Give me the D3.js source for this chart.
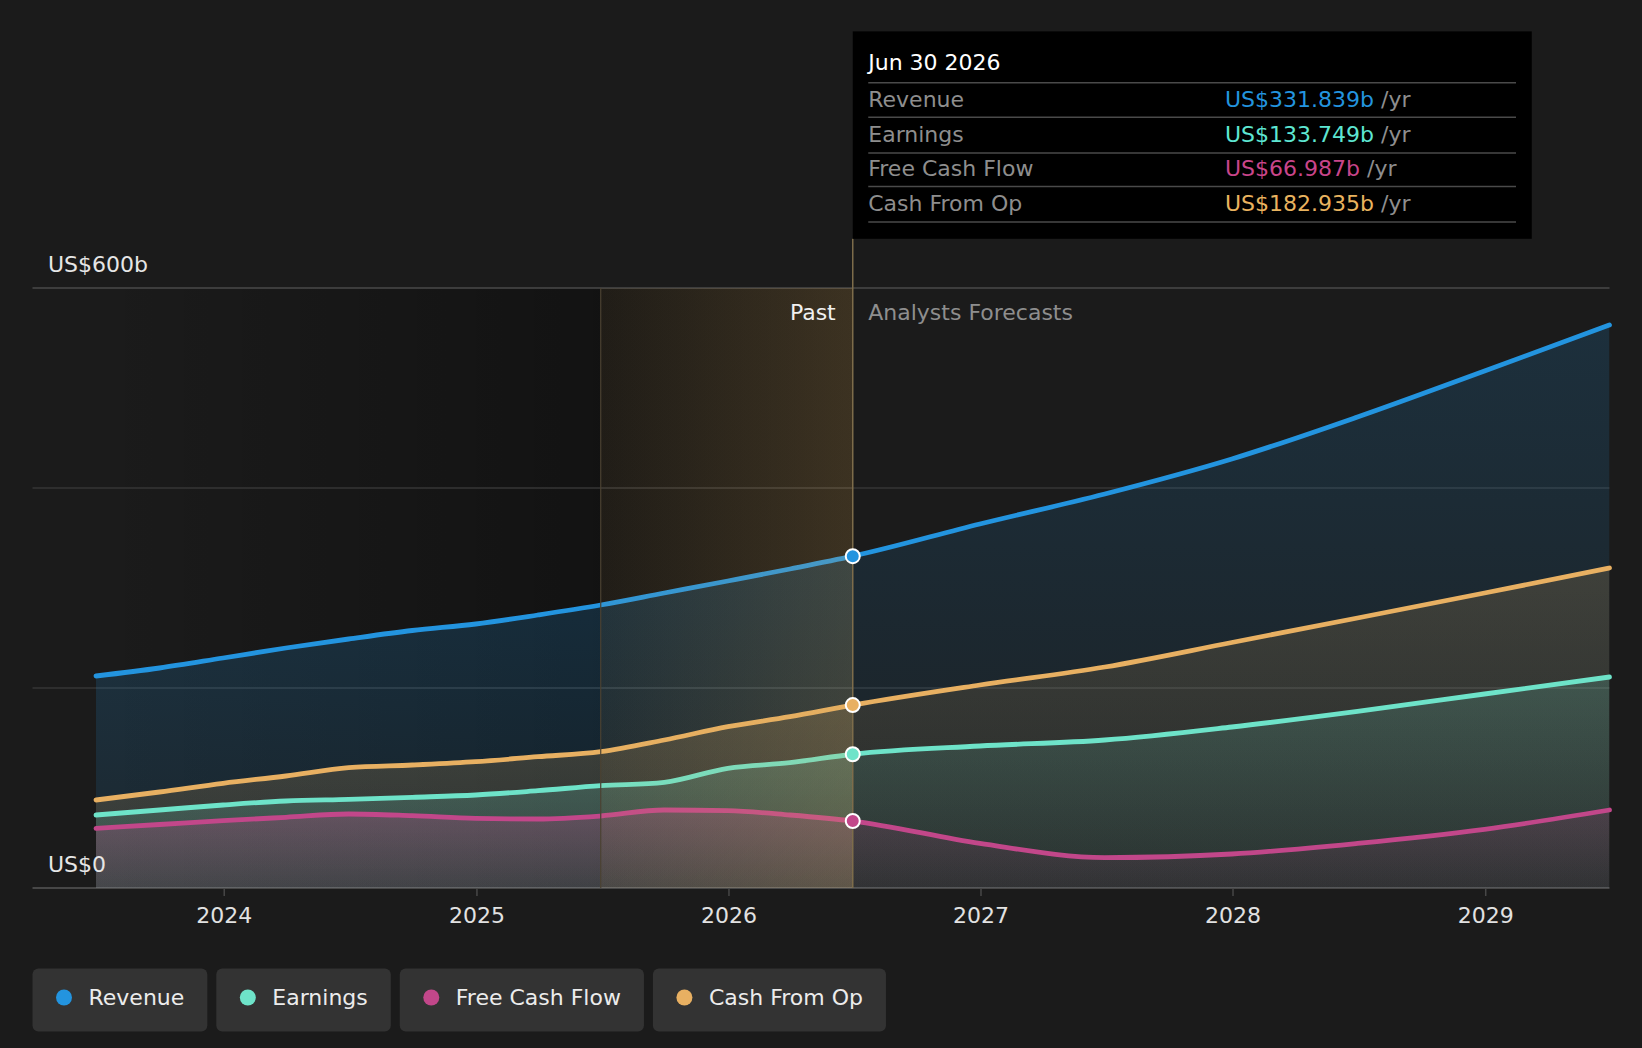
<!DOCTYPE html>
<html>
<head>
<meta charset="utf-8">
<script src="https://cdn.jsdelivr.net/npm/d3@7"></script>
<style>
  body { margin: 0; background: #1b1b1b; }
  svg { display: block; font-family: "DejaVu Sans", sans-serif; }
</style>
</head>
<body>
<svg id="chart"></svg>
<script>
// dates: quarterly history up to Jun 2026, half-yearly analyst forecasts after it
const dates = ["2023-06-30", "2023-09-30", "2023-12-31", "2024-03-31", "2024-06-30", "2024-09-30",
  "2024-12-31", "2025-03-31", "2025-06-30", "2025-09-30", "2025-12-31", "2026-03-31", "2026-06-30",
  "2026-12-31", "2027-06-30", "2027-12-31", "2028-06-30", "2028-12-31", "2029-06-30"];

// values in US$ billions
const revenue = [212, 220, 230, 240, 249, 257.5, 264, 273, 283, 295, 307, 319, 331.839,
  364, 394, 429, 471, 517, 563];
const earnings = [73, 78, 83, 87, 88.7, 90.7, 93, 97.3, 102.3, 105.7, 119.7, 125.3, 133.749,
  142, 148, 161, 176.6, 194, 211];
const freeCashFlow = [59.7, 63.5, 67.3, 70.7, 74, 72.3, 69.7, 69, 72, 78, 77.3, 73, 66.987,
  44.6, 30.4, 34, 44.6, 58.7, 78];
const cashFromOp = [88, 96, 104.7, 112, 120.3, 123, 126.3, 131.3, 136.3, 148, 161.3, 171.3, 182.935,
  203, 221, 245.5, 270, 295, 320];

const seriesNames = ["Revenue", "Earnings", "Free Cash Flow", "Cash From Op"];
const seriesColors = ["#2394df", "#6ee3c9", "#c2478a", "#e8b062"];
const tooltipColors = ["#2394df", "#5ee6d2", "#c9458a", "#e9b35f"];

const yTicks = [0, 200, 400, 600];
const yLabels = ["US$0", "US$600b"];

const nowDate = "2026-06-30";
const highlightStart = "2025-06-30";
const tooltipTitle = "Jun 30 2026";

const W = 1642, H = 1048;
const plotLeft = 32.5, plotRight = 1609.5;
const fontSize = 22;
const parse = d3.timeParse("%Y-%m-%d");
const dd = dates.map(parse);

const allSeries = [revenue, earnings, freeCashFlow, cashFromOp];
// drawing order: largest area at the back
const drawOrder = [0, 3, 1, 2];

const svg = d3.select("#chart").attr("width", W).attr("height", H);
svg.append("rect").attr("width", W).attr("height", H).attr("fill", "#1b1b1b");

const x = d3.scaleTime().domain([dd[0], dd[dd.length - 1]]).range([96, plotRight]);
const y = d3.scaleLinear().domain([0, 600]).range([888, 288]);

const xNow = x(parse(nowDate));
const xHi = x(parse(highlightStart));
const x0 = x(dd[0]);

const defs = svg.append("defs");

// darker band behind the history
const dark = defs.append("linearGradient").attr("id", "dark")
  .attr("gradientUnits", "userSpaceOnUse").attr("x1", x0).attr("x2", xNow).attr("y1", 0).attr("y2", 0);
dark.append("stop").attr("offset", 0).attr("stop-color", "#000").attr("stop-opacity", 0);
dark.append("stop").attr("offset", (xHi - x0) / (xNow - x0)).attr("stop-color", "#000").attr("stop-opacity", 0.32);
dark.append("stop").attr("offset", 1).attr("stop-color", "#000").attr("stop-opacity", 0.32);

const gold = defs.append("linearGradient").attr("id", "gold")
  .attr("gradientUnits", "userSpaceOnUse").attr("x1", xHi).attr("x2", xNow).attr("y1", 0).attr("y2", 0);
gold.append("stop").attr("offset", 0).attr("stop-color", "#d9a95a").attr("stop-opacity", 0.07);
gold.append("stop").attr("offset", 1).attr("stop-color", "#d9a95a").attr("stop-opacity", 0.21);

defs.append("clipPath").attr("id", "clipPast").append("rect")
  .attr("x", x0).attr("y", 0).attr("width", xNow - x0).attr("height", H);
defs.append("clipPath").attr("id", "clipFuture").append("rect")
  .attr("x", xNow).attr("y", 0).attr("width", plotRight - xNow).attr("height", H);

allSeries.forEach((s, i) => {
  [["past", 0.28, 0.1], ["future", 0.17, 0.05]].forEach(([k, top, bot]) => {
    const g = defs.append("linearGradient").attr("id", `area-${k}-${i}`)
      .attr("gradientUnits", "userSpaceOnUse")
      .attr("x1", 0).attr("x2", 0).attr("y1", y(d3.max(s))).attr("y2", y(0));
    g.append("stop").attr("offset", 0).attr("stop-color", seriesColors[i]).attr("stop-opacity", top);
    g.append("stop").attr("offset", 1).attr("stop-color", seriesColors[i]).attr("stop-opacity", bot);
  });
});

svg.append("rect").attr("x", x0).attr("y", y(600)).attr("width", xNow - x0)
  .attr("height", y(0) - y(600)).attr("fill", "url(#dark)");

// gridlines
svg.append("g").selectAll("line").data(yTicks).join("line")
  .attr("x1", plotLeft).attr("x2", plotRight)
  .attr("y1", d => y(d)).attr("y2", d => y(d))
  .attr("stroke", d => d === 600 ? "#4a4a4a" : d === 0 ? "#474747" : "#363636")
  .attr("stroke-width", d => d === 0 ? 2 : 1.5);

const area = d3.area().x((d, i) => x(dd[i])).y0(y(0)).y1(d => y(d)).curve(d3.curveMonotoneX);
const line = d3.line().x((d, i) => x(dd[i])).y(d => y(d)).curve(d3.curveMonotoneX);

["past", "future"].forEach(k => {
  svg.append("g").attr("clip-path", k === "past" ? "url(#clipPast)" : "url(#clipFuture)")
    .selectAll("path").data(drawOrder).join("path")
    .attr("d", i => area(allSeries[i]))
    .attr("fill", i => `url(#area-${k}-${i})`);
});

svg.append("g").selectAll("path").data(drawOrder).join("path")
  .attr("d", i => line(allSeries[i]))
  .attr("fill", "none")
  .attr("stroke", i => seriesColors[i])
  .attr("stroke-width", 4.8)
  .attr("stroke-linecap", "round");

// highlighted last year of history, laid over the lines so they look washed
svg.append("rect").attr("x", xHi).attr("y", y(600)).attr("width", xNow - xHi)
  .attr("height", y(0) - y(600)).attr("fill", "url(#gold)");

svg.append("line").attr("x1", xHi).attr("x2", xHi).attr("y1", y(600)).attr("y2", y(0))
  .attr("stroke", "#4b4232").attr("stroke-width", 1.2);
svg.append("line").attr("x1", xNow).attr("x2", xNow).attr("y1", 238.8).attr("y2", y(0))
  .attr("stroke", "#7d6c4a").attr("stroke-width", 1.5);

const nowIdx = dates.indexOf(nowDate);
svg.append("g").selectAll("circle").data(drawOrder).join("circle")
  .attr("cx", xNow).attr("cy", i => y(allSeries[i][nowIdx])).attr("r", 7)
  .attr("fill", i => seriesColors[i]).attr("stroke", "#fff").attr("stroke-width", 2);

// x axis
const xAxis = svg.append("g").attr("transform", `translate(0,${y(0)})`)
  .call(d3.axisBottom(x).ticks(d3.timeYear.every(1)).tickFormat(d3.timeFormat("%Y"))
    .tickSize(8).tickPadding(11.5));
xAxis.select(".domain").remove();
xAxis.selectAll(".tick line").attr("stroke", "#474747").attr("stroke-width", 1.5);
xAxis.selectAll(".tick text").attr("fill", "#e2e2e2").attr("font-size", fontSize)
  .attr("font-family", "DejaVu Sans");

// y labels
svg.append("g").selectAll("text").data([0, 600]).join("text")
  .attr("x", 48).attr("y", d => y(d) - 16)
  .attr("fill", "#e6e6e6").attr("font-size", fontSize)
  .text((d, i) => yLabels[i]);

svg.append("text").attr("x", xNow - 17).attr("y", 320).attr("text-anchor", "end")
  .attr("fill", "#f0f0f0").attr("font-size", fontSize).text("Past");
svg.append("text").attr("x", xNow + 15.5).attr("y", 320)
  .attr("fill", "#8e8e8e").attr("font-size", fontSize).text("Analysts Forecasts");

// tooltip
const tip = svg.append("g");
tip.append("rect").attr("x", xNow).attr("y", 31.4).attr("width", 679).attr("height", 207.4).attr("fill", "#000");
tip.append("text").attr("x", xNow + 15.5).attr("y", 70).attr("fill", "#fff").attr("font-size", fontSize).text(tooltipTitle);
const sepY = [82.7, 117.3, 152.9, 186.4, 222];
tip.selectAll("line").data(sepY).join("line")
  .attr("x1", xNow + 15.5).attr("x2", 1516).attr("y1", d => d).attr("y2", d => d)
  .attr("stroke", "#4a4a4a").attr("stroke-width", 1.5);
const rows = tip.selectAll("g.row").data(seriesNames).join("g").attr("class", "row")
  .attr("transform", (d, i) => `translate(0,${(sepY[i] + sepY[i + 1]) / 2 + 6.5})`);
rows.append("text").attr("x", xNow + 15.5).attr("fill", "#8e8e8e").attr("font-size", fontSize).text(d => d);
const vt = rows.append("text").attr("x", 1225).attr("font-size", fontSize);
vt.append("tspan").attr("fill", (d, i) => tooltipColors[i])
  .text((d, i) => "US$" + d3.format(".3f")(allSeries[i][nowIdx]) + "b");
vt.append("tspan").attr("fill", "#8e8e8e").text(" /yr");

// legend
const legend = svg.append("g");
let lx = plotLeft;
seriesNames.forEach((name, i) => {
  const g = legend.append("g").attr("transform", `translate(${lx},968.5)`);
  const r = g.append("rect").attr("height", 63).attr("rx", 6).attr("fill", "#333333");
  g.append("circle").attr("cx", 31.5).attr("cy", 29).attr("r", 8).attr("fill", seriesColors[i]);
  const t = g.append("text").attr("x", 56).attr("y", 36.5).attr("fill", "#ececec")
    .attr("font-size", fontSize).text(name);
  const w = 56 + t.node().getComputedTextLength() + 23;
  r.attr("width", w);
  lx += w + 9;
});
</script>
</body>
</html>
